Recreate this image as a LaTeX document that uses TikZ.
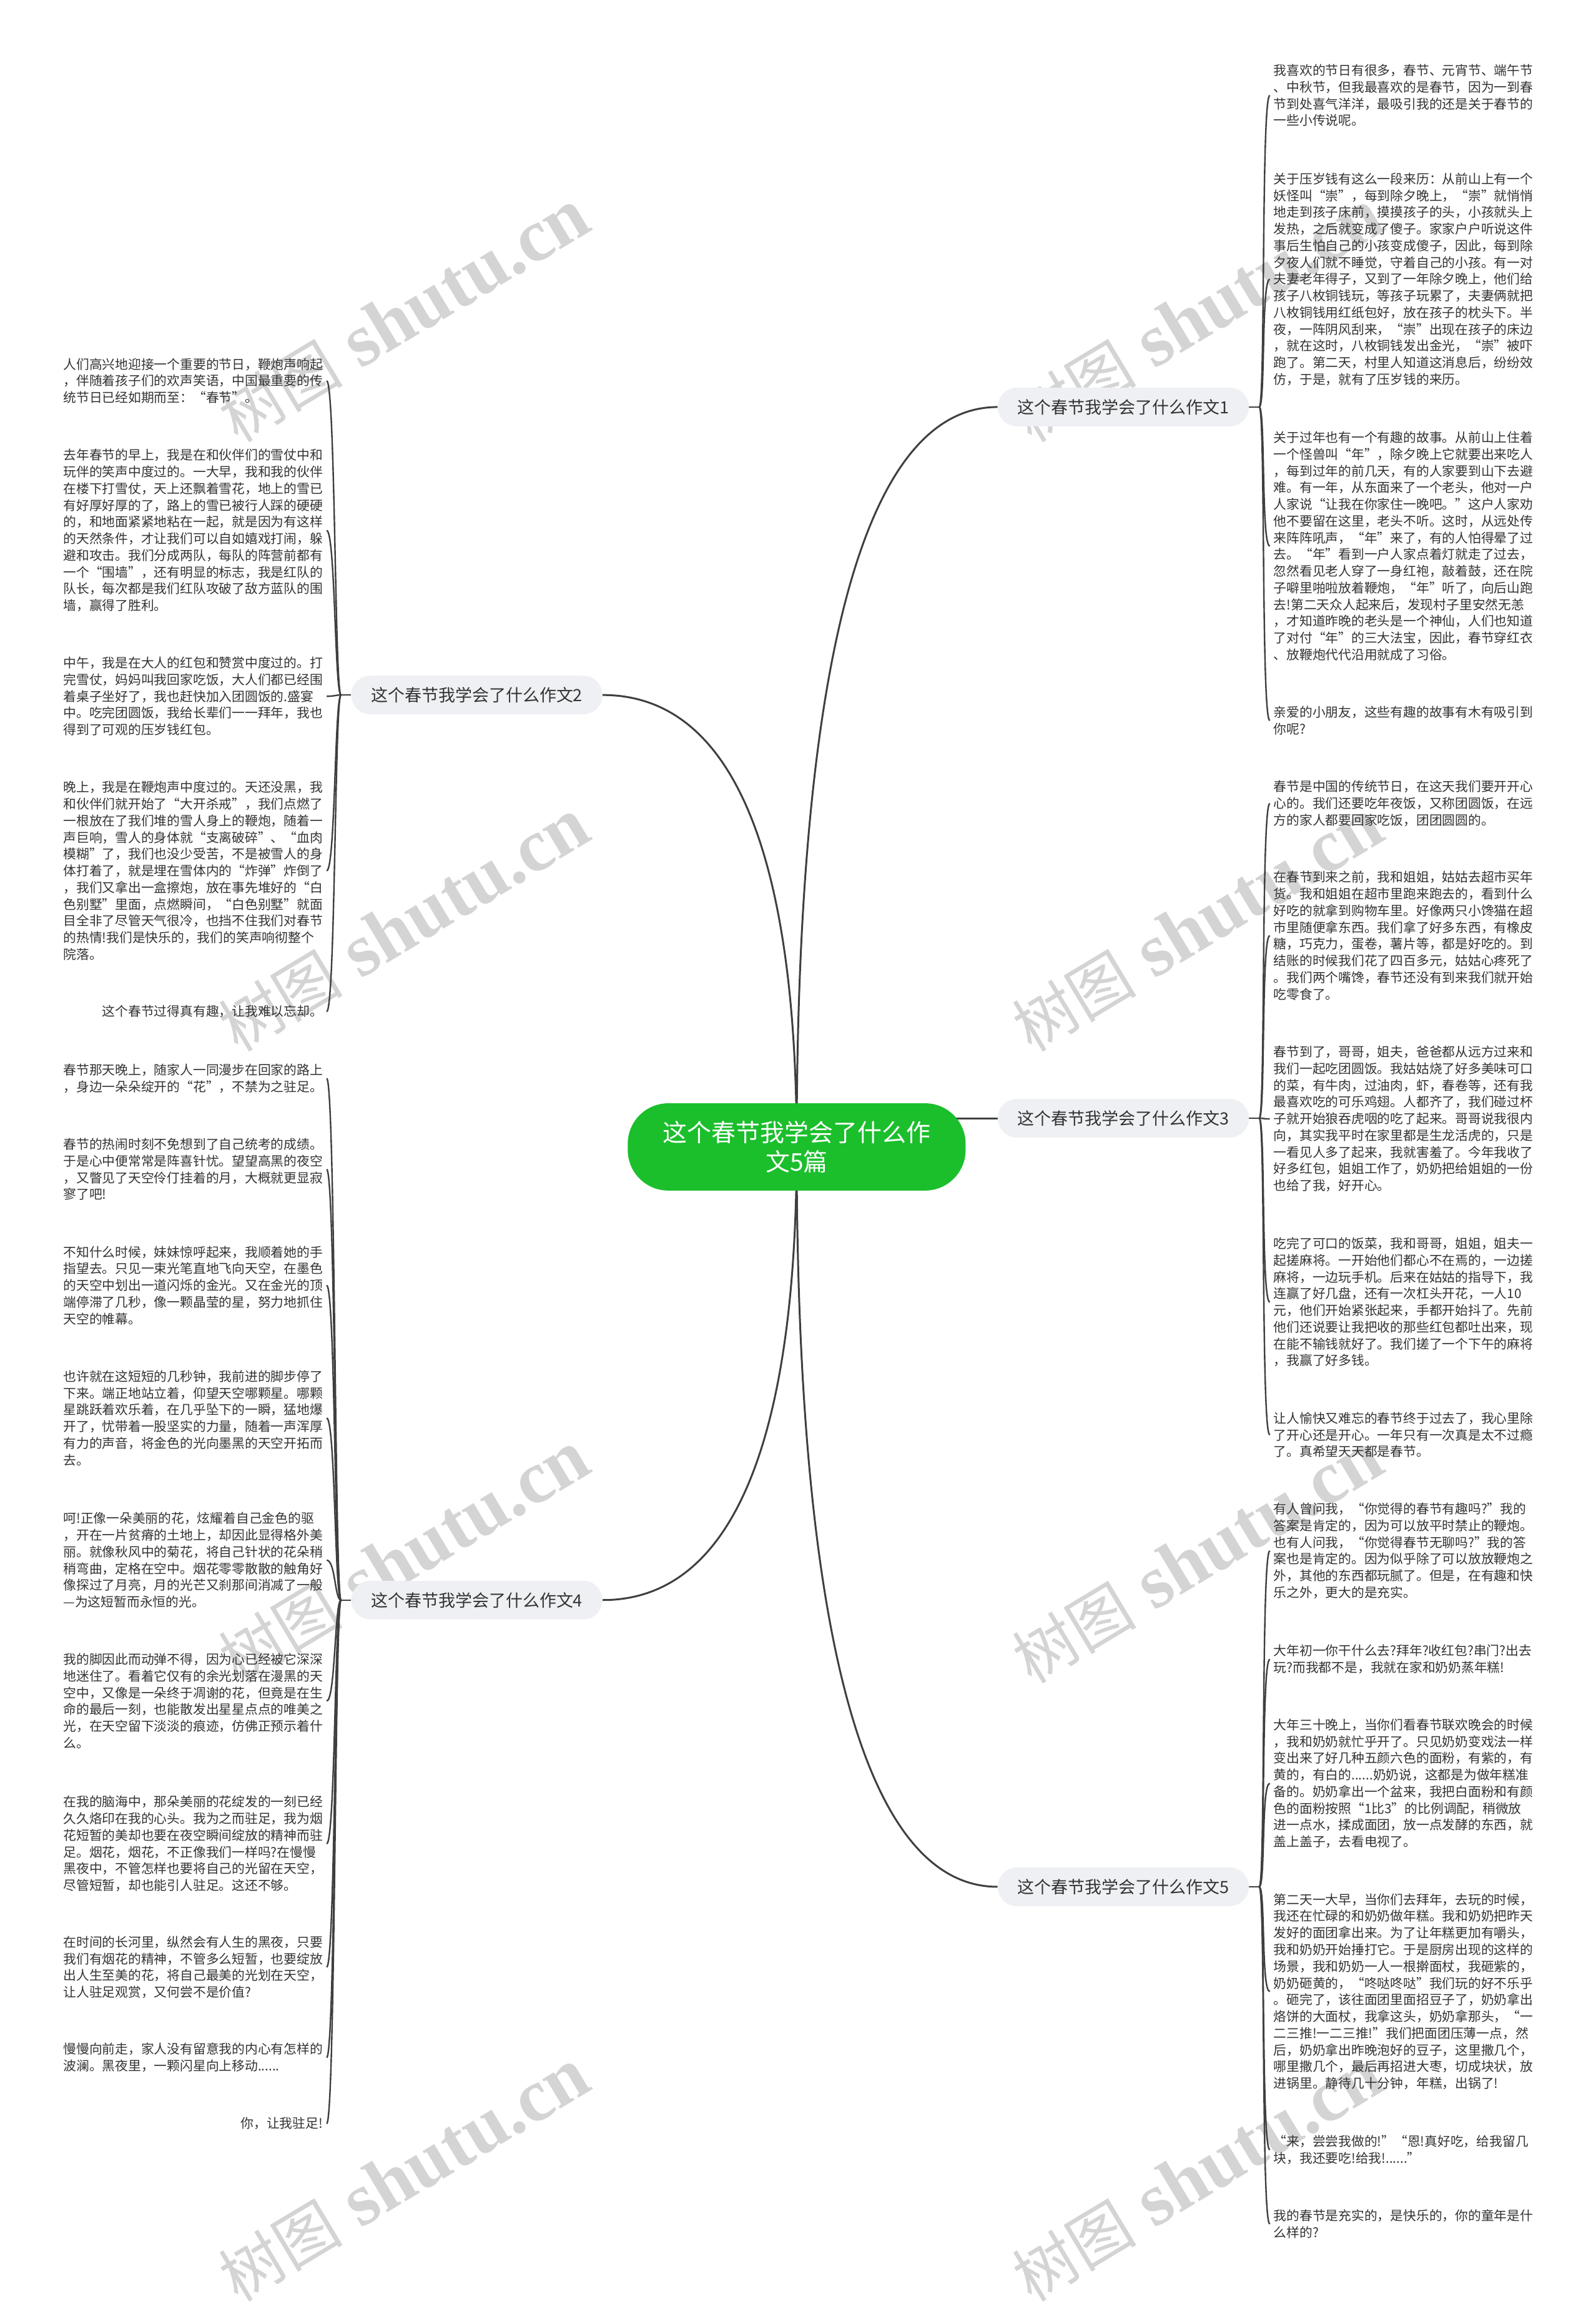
\documentclass[tikz,border=0pt]{standalone}
\usepackage{fontspec}
\setmainfont{Noto Sans CJK SC}
\newfontfamily\wmserif{Liberation Serif}
\pgfdeclarelayer{wm}
\pgfdeclarelayer{bg}
\pgfsetlayers{wm,bg,main}
\definecolor{txt}{HTML}{333333}
\definecolor{pillc}{HTML}{EEF0F3}
\definecolor{greenc}{HTML}{1BBF2C}
\definecolor{linec}{HTML}{3F3F3F}
\definecolor{wmc}{HTML}{D4D4D4}
\newcommand{\myoq}{\makebox[1em][r]{“}}
\newcommand{\mycq}{\makebox[1em][l]{”}}
\tikzset{
  leafR/.style={anchor=west, align=left, inner xsep=6pt, inner ysep=0pt, text=txt, font=\fontsize{20.8}{26.8}\selectfont},
  leafL/.style={leafR, anchor=east},
  pillnode/.style={rounded corners=31pt, fill=pillc, text=txt, minimum height=62pt, inner xsep=32pt, inner ysep=0pt, font=\fontsize{27}{32}\selectfont},
  rootnode/.style={rounded corners=65pt, fill=greenc, text=white, minimum width=542pt, minimum height=140pt, inner sep=0pt, align=center, font=\fontsize{39}{47}\selectfont},
  mainline/.style={draw=linec, line width=3pt},
  leafline/.style={draw=linec, line width=2.4pt},
  wmark/.style={text=wmc, rotate=31, inner sep=0pt}
}
\begin{document}
\begin{tikzpicture}[x=1pt,y=-1pt]
\begin{pgfonlayer}{wm}
\fill[white] (0,0) rectangle (2560,3695);
\foreach \wx in {648,1921} \foreach \wy in {507,1485,2499,3490} {
  \node[wmark] (wm-\wx-\wy) at (\wx,\wy) {{\fontsize{100}{100}\selectfont 树图}\hspace{30pt}{\wmserif\bfseries\fontsize{120}{120}\selectfont shutu.cn}};
}
\end{pgfonlayer}
\useasboundingbox (0,0) rectangle (2560,3695);

% root and branches
\node[rootnode] (c) at (1278,1840) {这个春节我学会了什么作\\文5篇};
\node[pillnode] (b1) at (1802,653) {这个春节我学会了什么作文1};
\node[pillnode] (b2) at (765,1115) {这个春节我学会了什么作文2};
\node[pillnode] (b3) at (1802,1794) {这个春节我学会了什么作文3};
\node[pillnode] (b4) at (765,2567) {这个春节我学会了什么作文4};
\node[pillnode] (b5) at (1802,3027) {这个春节我学会了什么作文5};

\coordinate (j1) at (2020,653);
\coordinate (j3) at (2020,1794);
\coordinate (j5) at (2020,3027);
\coordinate (j2) at (547,1115);
\coordinate (j4) at (547,2567);

% right leaves, branch 1
\node[leafR] (r1a) at (2037,153) {我喜欢的节日有很多，春节、元宵节、端午节\\
、中秋节，但我最喜欢的是春节，因为一到春\\
节到处喜气洋洋，最吸引我的还是关于春节的\\
一些小传说呢。};
\node[leafR] (r1b) at (2037,448) {关于压岁钱有这么一段来历：从前山上有一个\\
妖怪叫\myoq 崇\mycq ，每到除夕晚上，\myoq 崇\mycq 就悄悄\\
地走到孩子床前，摸摸孩子的头，小孩就头上\\
发热，之后就变成了傻子。家家户户听说这件\\
事后生怕自己的小孩变成傻子，因此，每到除\\
夕夜人们就不睡觉，守着自己的小孩。有一对\\
夫妻老年得子，又到了一年除夕晚上，他们给\\
孩子八枚铜钱玩，等孩子玩累了，夫妻俩就把\\
八枚铜钱用红纸包好，放在孩子的枕头下。半\\
夜，一阵阴风刮来，\myoq 崇\mycq 出现在孩子的床边\\
，就在这时，八枚铜钱发出金光，\myoq 崇\mycq 被吓\\
跑了。第二天，村里人知道这消息后，纷纷效\\
仿，于是，就有了压岁钱的来历。};
\node[leafR] (r1c) at (2037,876) {关于过年也有一个有趣的故事。从前山上住着\\
一个怪兽叫\myoq 年\mycq ，除夕晚上它就要出来吃人\\
，每到过年的前几天，有的人家要到山下去避\\
难。有一年，从东面来了一个老头，他对一户\\
人家说\myoq 让我在你家住一晚吧。\mycq 这户人家劝\\
他不要留在这里，老头不听。这时，从远处传\\
来阵阵吼声，\myoq 年\mycq 来了，有的人怕得晕了过\\
去。\myoq 年\mycq 看到一户人家点着灯就走了过去，\\
忽然看见老人穿了一身红袍，敲着鼓，还在院\\
子噼里啪啦放着鞭炮，\myoq 年\mycq 听了，向后山跑\\
去!第二天众人起来后，发现村子里安然无恙\\
，才知道昨晚的老头是一个神仙，人们也知道\\
了对付\myoq 年\mycq 的三大法宝，因此，春节穿红衣\\
、放鞭炮代代沿用就成了习俗。};
\node[leafR] (r1d) at (2037,1156) {亲爱的小朋友，这些有趣的故事有木有吸引到\\
你呢?};

% right leaves, branch 3
\node[leafR] (r3a) at (2037,1289) {春节是中国的传统节日，在这天我们要开开心\\
心的。我们还要吃年夜饭，又称团圆饭，在远\\
方的家人都要回家吃饭，团团圆圆的。};
\node[leafR] (r3b) at (2037,1501) {在春节到来之前，我和姐姐，姑姑去超市买年\\
货。我和姐姐在超市里跑来跑去的，看到什么\\
好吃的就拿到购物车里。好像两只小馋猫在超\\
市里随便拿东西。我们拿了好多东西，有橡皮\\
糖，巧克力，蛋卷，薯片等，都是好吃的。到\\
结账的时候我们花了四百多元，姑姑心疼死了\\
。我们两个嘴馋，春节还没有到来我们就开始\\
吃零食了。};
\node[leafR] (r3c) at (2037,1795) {春节到了，哥哥，姐夫，爸爸都从远方过来和\\
我们一起吃团圆饭。我姑姑烧了好多美味可口\\
的菜，有牛肉，过油肉，虾，春卷等，还有我\\
最喜欢吃的可乐鸡翅。人都齐了，我们碰过杯\\
子就开始狼吞虎咽的吃了起来。哥哥说我很内\\
向，其实我平时在家里都是生龙活虎的，只是\\
一看见人多了起来，我就害羞了。今年我收了\\
好多红包，姐姐工作了，奶奶把给姐姐的一份\\
也给了我，好开心。};
\node[leafR] (r3d) at (2037,2089) {吃完了可口的饭菜，我和哥哥，姐姐，姐夫一\\
起搓麻将。一开始他们都心不在焉的，一边搓\\
麻将，一边玩手机。后来在姑姑的指导下，我\\
连赢了好几盘，还有一次杠头开花，一人10\\
元，他们开始紧张起来，手都开始抖了。先前\\
他们还说要让我把收的那些红包都吐出来，现\\
在能不输钱就好了。我们搓了一个下午的麻将\\
，我赢了好多钱。};
\node[leafR] (r3e) at (2037,2302) {让人愉快又难忘的春节终于过去了，我心里除\\
了开心还是开心。一年只有一次真是太不过瘾\\
了。真希望天天都是春节。};

% right leaves, branch 5
\node[leafR] (r5a) at (2037,2488) {有人曾问我，\myoq 你觉得的春节有趣吗?\mycq 我的\\
答案是肯定的，因为可以放平时禁止的鞭炮。\\
也有人问我，\myoq 你觉得春节无聊吗?\mycq 我的答\\
案也是肯定的。因为似乎除了可以放放鞭炮之\\
外，其他的东西都玩腻了。但是，在有趣和快\\
乐之外，更大的是充实。};
\node[leafR] (r5b) at (2037,2662) {大年初一你干什么去?拜年?收红包?串门?出去\\
玩?而我都不是，我就在家和奶奶蒸年糕!};
\node[leafR] (r5c) at (2037,2861) {大年三十晚上，当你们看春节联欢晚会的时候\\
，我和奶奶就忙乎开了。只见奶奶变戏法一样\\
变出来了好几种五颜六色的面粉，有紫的，有\\
黄的，有白的......奶奶说，这都是为做年糕准\\
备的。奶奶拿出一个盆来，我把白面粉和有颜\\
色的面粉按照\myoq 1比3\mycq 的比例调配，稍微放\\
进一点水，揉成面团，放一点发酵的东西，就\\
盖上盖子，去看电视了。};
\node[leafR] (r5d) at (2037,3195) {第二天一大早，当你们去拜年，去玩的时候，\\
我还在忙碌的和奶奶做年糕。我和奶奶把昨天\\
发好的面团拿出来。为了让年糕更加有嚼头，\\
我和奶奶开始捶打它。于是厨房出现的这样的\\
场景，我和奶奶一人一根擀面杖，我砸紫的，\\
奶奶砸黄的，\myoq 咚哒咚哒\mycq 我们玩的好不乐乎\\
。砸完了，该往面团里面招豆子了，奶奶拿出\\
烙饼的大面杖，我拿这头，奶奶拿那头，\myoq 一\\
二三推!一二三推!\mycq 我们把面团压薄一点，然\\
后，奶奶拿出昨晚泡好的豆子，这里撒几个，\\
哪里撒几个，最后再招进大枣，切成块状，放\\
进锅里。静待几十分钟，年糕，出锅了!};
\node[leafR] (r5e) at (2037,3449) {\myoq 来，尝尝我做的!\mycq \myoq 恩!真好吃，给我留几\\
块，我还要吃!给我!......\mycq};
\node[leafR] (r5f) at (2037,3568) {我的春节是充实的，是快乐的，你的童年是什\\
么样的?};

% left leaves, branch 2
\node[leafL] (l2a) at (524,611) {人们高兴地迎接一个重要的节日，鞭炮声响起\\
，伴随着孩子们的欢声笑语，中国最重要的传\\
统节日已经如期而至：\myoq 春节\mycq 。};
\node[leafL] (l2b) at (524,851) {去年春节的早上，我是在和伙伴们的雪仗中和\\
玩伴的笑声中度过的。一大早，我和我的伙伴\\
在楼下打雪仗，天上还飘着雪花，地上的雪已\\
有好厚好厚的了，路上的雪已被行人踩的硬硬\\
的，和地面紧紧地粘在一起，就是因为有这样\\
的天然条件，才让我们可以自如嬉戏打闹，躲\\
避和攻击。我们分成两队，每队的阵营前都有\\
一个\myoq 围墙\mycq ，还有明显的标志，我是红队的\\
队长，每次都是我们红队攻破了敌方蓝队的围\\
墙，赢得了胜利。};
\node[leafL] (l2c) at (524,1117) {中午，我是在大人的红包和赞赏中度过的。打\\
完雪仗，妈妈叫我回家吃饭，大人们都已经围\\
着桌子坐好了，我也赶快加入团圆饭的.盛宴\\
中。吃完团圆饭，我给长辈们一一拜年，我也\\
得到了可观的压岁钱红包。};
\node[leafL] (l2d) at (524,1397) {晚上，我是在鞭炮声中度过的。天还没黑，我\\
和伙伴们就开始了\myoq 大开杀戒\mycq ，我们点燃了\\
一根放在了我们堆的雪人身上的鞭炮，随着一\\
声巨响，雪人的身体就\myoq 支离破碎\mycq 、\myoq 血肉\\
模糊\mycq 了，我们也没少受苦，不是被雪人的身\\
体打着了，就是埋在雪体内的\myoq 炸弹\mycq 炸倒了\\
，我们又拿出一盒擦炮，放在事先堆好的\myoq 白\\
色别墅\mycq 里面，点燃瞬间，\myoq 白色别墅\mycq 就面\\
目全非了尽管天气很冷，也挡不住我们对春节\\
的热情!我们是快乐的，我们的笑声响彻整个\\
院落。};
\node[leafL] (l2e) at (524,1623) {这个春节过得真有趣，让我难以忘却。};

% left leaves, branch 4
\node[leafL] (l4a) at (524,1730) {春节那天晚上，随家人一同漫步在回家的路上\\
，身边一朵朵绽开的\myoq 花\mycq ，不禁为之驻足。};
\node[leafL] (l4b) at (524,1876) {春节的热闹时刻不免想到了自己统考的成绩。\\
于是心中便常常是阵喜针忧。望望高黑的夜空\\
，又瞥见了天空伶仃挂着的月，大概就更显寂\\
寥了吧!};
\node[leafL] (l4c) at (524,2062) {不知什么时候，妹妹惊呼起来，我顺着她的手\\
指望去。只见一束光笔直地飞向天空，在墨色\\
的天空中划出一道闪烁的金光。又在金光的顶\\
端停滞了几秒，像一颗晶莹的星，努力地抓住\\
天空的帷幕。};
\node[leafL] (l4d) at (524,2275) {也许就在这短短的几秒钟，我前进的脚步停了\\
下来。端正地站立着，仰望天空哪颗星。哪颗\\
星跳跃着欢乐着，在几乎坠下的一瞬，猛地爆\\
开了，忧带着一股坚实的力量，随着一声浑厚\\
有力的声音，将金色的光向墨黑的天空开拓而\\
去。};
\node[leafL] (l4e) at (524,2503) {呵!正像一朵美丽的花，炫耀着自己金色的驱\\
，开在一片贫瘠的土地上，却因此显得格外美\\
丽。就像秋风中的菊花，将自己针状的花朵稍\\
稍弯曲，定格在空中。烟花零零散散的触角好\\
像探过了月亮，月的光芒又刹那间消减了一般\\
—为这短暂而永恒的光。};
\node[leafL] (l4f) at (524,2729) {我的脚因此而动弹不得，因为心已经被它深深\\
地迷住了。看着它仅有的余光划落在漫黑的天\\
空中，又像是一朵终于凋谢的花，但竟是在生\\
命的最后一刻，也能散发出星星点点的唯美之\\
光，在天空留下淡淡的痕迹，仿佛正预示着什\\
么。};
\node[leafL] (l4g) at (524,2958) {在我的脑海中，那朵美丽的花绽发的一刻已经\\
久久烙印在我的心头。我为之而驻足，我为烟\\
花短暂的美却也要在夜空瞬间绽放的精神而驻\\
足。烟花，烟花，不正像我们一样吗?在慢慢\\
黑夜中，不管怎样也要将自己的光留在天空，\\
尽管短暂，却也能引人驻足。这还不够。};
\node[leafL] (l4h) at (524,3156) {在时间的长河里，纵然会有人生的黑夜，只要\\
我们有烟花的精神，不管多么短暂，也要绽放\\
出人生至美的花，将自己最美的光划在天空，\\
让人驻足观赏，又何尝不是价值?};
\node[leafL] (l4i) at (524,3301) {慢慢向前走，家人没有留意我的内心有怎样的\\
波澜。黑夜里，一颗闪星向上移动......};
\node[leafL] (l4j) at (524,3407) {你，让我驻足!};

% connectors
\begin{pgfonlayer}{bg}
\draw[mainline] (c.center) .. controls (1278,1104) and (1375,653) .. (b1.west);
\draw[mainline] (c.center) .. controls (1278,1390) and (1184,1115) .. (b2.east);
\draw[mainline] (b3.west) -- (b3.west -| c.center);
\draw[mainline] (c.center) .. controls (1278,2291) and (1184,2567) .. (b4.east);
\draw[mainline] (c.center) .. controls (1278,2576) and (1375,3027) .. (b5.west);

\draw[leafline] (b1.east) -- (j1);
\draw[leafline] (b3.east) -- (j3);
\draw[leafline] (b5.east) -- (j5);
\draw[leafline] (b2.west) -- (j2);
\draw[leafline] (b4.west) -- (j4);

\foreach \n in {r1a,r1b,r1c,r1d}
  \draw[leafline] (j1) .. controls +(10,0) and +(-14,0) .. (\n.west);
\foreach \n in {r3a,r3b,r3c,r3d,r3e}
  \draw[leafline] (j3) .. controls +(10,0) and +(-14,0) .. (\n.west);
\foreach \n in {r5a,r5b,r5c,r5d,r5e,r5f}
  \draw[leafline] (j5) .. controls +(10,0) and +(-14,0) .. (\n.west);
\foreach \n in {l2a,l2b,l2c,l2d,l2e}
  \draw[leafline] (j2) .. controls +(-10,0) and +(14,0) .. (\n.east);
\foreach \n in {l4a,l4b,l4c,l4d,l4e,l4f,l4g,l4h,l4i,l4j}
  \draw[leafline] (j4) .. controls +(-10,0) and +(14,0) .. (\n.east);
\end{pgfonlayer}
\end{tikzpicture}
\end{document}
